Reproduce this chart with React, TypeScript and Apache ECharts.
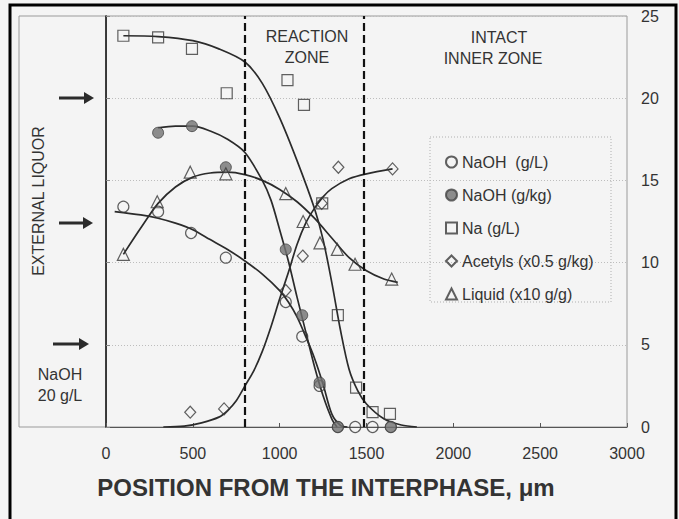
import React, { useEffect, useRef } from 'react';
import * as echarts from 'echarts';

// ---- data ----
const xTicks = [0, 500, 1000, 1500, 2000, 2500, 3000];
const yTicks = [0, 5, 10, 15, 20, 25];
const zoneBounds = [800, 1485];

const seriesNames = ['NaOH  (g/L)', 'NaOH (g/kg)', 'Na (g/L)', 'Acetyls (x0.5 g/kg)', 'Liquid (x10 g/g)'];

const xNaohGL = [100, 300, 490, 690, 1035, 1130, 1230, 1335, 1435, 1535, 1640];
const yNaohGL = [13.4, 13.1, 11.8, 10.3, 7.6, 5.5, 2.5, 0, 0, 0, 0];

const xNaohGkg = [300, 495, 690, 1035, 1130, 1230, 1335, 1640];
const yNaohGkg = [17.9, 18.3, 15.8, 10.8, 6.8, 2.7, 0, 0];

const xNa = [100, 300, 495, 695, 1045, 1140, 1245, 1335, 1440, 1535, 1635];
const yNa = [23.8, 23.7, 23.0, 20.3, 21.1, 19.6, 13.6, 6.8, 2.4, 0.9, 0.8];

const xAcetyl = [485, 680, 1035, 1133, 1242, 1338, 1650];
const yAcetyl = [0.9, 1.1, 8.3, 10.4, 13.6, 15.8, 15.7];

const xLiquid = [100, 295, 485, 690, 1035, 1135, 1232, 1332, 1434, 1645];
const yLiquid = [10.5, 13.7, 15.5, 15.4, 14.2, 12.5, 11.2, 10.8, 9.9, 9.0];

// fitted curves, points
const fitXNaohGL = [50, 200, 300, 400, 500, 600, 700, 800, 900, 1000, 1050, 1100, 1150, 1200, 1250, 1300, 1350, 1390];
const fitYNaohGL = [13.1, 12.9, 12.7, 12.4, 12.0, 11.4, 10.8, 10.1, 9.3, 8.3, 7.6, 6.7, 5.5, 4.2, 2.6, 0.8, 0.1, 0];

const fitXNaohGkg = [300, 400, 500, 600, 700, 800, 900, 950, 1000, 1050, 1100, 1150, 1200, 1250, 1300, 1330];
const fitYNaohGkg = [18.2, 18.3, 18.3, 18.0, 17.5, 16.7, 15.0, 13.8, 12.0, 10.1, 7.9, 5.8, 3.7, 1.9, 0.5, 0];

const fitXNa = [100, 300, 500, 650, 800, 900, 1000, 1100, 1200, 1250, 1300, 1350, 1400, 1450, 1500, 1600, 1700, 1790];
const fitYNa = [23.8, 23.75, 23.5, 23.0, 22.2, 20.9, 18.8, 16.2, 13.3, 11.4, 8.8, 5.9, 3.5, 2.2, 1.4, 0.5, 0.12, 0];

const fitXAcetyl = [330, 450, 550, 650, 700, 750, 800, 850, 900, 950, 1000, 1050, 1100, 1150, 1200, 1250, 1300, 1400, 1500, 1650];
const fitYAcetyl = [0, 0.05, 0.25, 0.6, 1.0, 1.6, 2.5, 3.4, 4.6, 6.1, 7.8, 9.4, 11.1, 12.4, 13.3, 14.0, 14.5, 15.1, 15.4, 15.7];

const fitXLiquid = [100, 200, 300, 400, 500, 600, 700, 800, 900, 1000, 1100, 1200, 1300, 1400, 1500, 1600, 1680];
const fitYLiquid = [10.5, 12.1, 13.6, 14.6, 15.2, 15.45, 15.5, 15.35, 15.0, 14.45, 13.7, 12.7, 11.5, 10.3, 9.5, 9.0, 8.8];

const zip = (xs: number[], ys: number[]) => xs.map((x, i) => [x, ys[i]]);

const FONT = '"Liberation Sans", Arial, sans-serif';
const BG = '#f4f4f4';
const INK = '#2b2b2b';

function buildOption() {
  const curveStyle = { color: INK, width: 1.7 };
  const curve = (name: string, xs: number[], ys: number[], extra: any = {}) => ({
    name,
    type: 'line',
    data: zip(xs, ys),
    smooth: 0.3,
    showSymbol: false,
    symbol: 'none',
    lineStyle: curveStyle,
    z: 2,
    silent: true,
    ...extra,
  });
  const open = { color: 'rgba(0,0,0,0)', borderColor: '#3a3a3a', borderWidth: 1.2 };
  const scatter = (name: string, xs: number[], ys: number[], symbol: string, size: any, itemStyle: any) => ({
    name,
    type: 'scatter',
    data: zip(xs, ys),
    symbol,
    symbolSize: size,
    itemStyle,
    z: 4,
  });

  const arrow = (x1: number, x2: number, y: number) => ({
    type: 'group',
    children: [
      { type: 'line', shape: { x1, y1: y, x2: x2 - 8, y2: y }, style: { stroke: INK, lineWidth: 3 } },
      { type: 'polygon', shape: { points: [[x2 - 10, y - 6], [x2, y], [x2 - 10, y + 6]] }, style: { fill: INK } },
    ],
  });
  const txt = (text: string, x: number, y: number, size = 16, weight = 'normal', rotation = 0) => ({
    type: 'text',
    x,
    y,
    rotation,
    style: {
      text,
      fill: '#333',
      font: `${weight} ${size}px ${FONT}`,
      textAlign: 'center',
      textVerticalAlign: 'middle',
    },
  });

  return {
    animation: false,
    backgroundColor: BG,
    grid: {
      left: 106,
      right: 52,
      top: 16,
      bottom: 92,
      show: true,
      borderColor: '#9a9a9a',
      borderWidth: 1,
      backgroundColor: 'rgba(0,0,0,0)',
    },
    xAxis: {
      type: 'value',
      min: xTicks[0],
      max: xTicks[xTicks.length - 1],
      interval: 500,
      axisLine: { show: true, lineStyle: { color: '#555', width: 1.2 } },
      axisTick: { show: true, inside: true, length: 4, lineStyle: { color: '#555' } },
      axisLabel: { margin: 18, fontSize: 16, color: '#333', fontFamily: FONT, formatter: (v: number) => String(v) },
      splitLine: { show: false },
    },
    yAxis: [
      {
        type: 'value',
        position: 'right',
        min: yTicks[0],
        max: yTicks[yTicks.length - 1],
        interval: 5,
        axisLine: { show: true, lineStyle: { color: '#8a8a8a' } },
        axisTick: { show: true, length: 4, lineStyle: { color: '#8a8a8a' } },
        axisLabel: { margin: 14, fontSize: 16, color: '#333', fontFamily: FONT, formatter: (v: number) => String(v) },
        splitLine: { show: true, lineStyle: { color: '#bdbdbd', type: [1, 2], width: 1 } },
      },
      {
        type: 'value',
        position: 'left',
        min: 0,
        max: 25,
        interval: 5,
        axisLine: { show: true, onZero: false, lineStyle: { color: '#222', width: 1.6 } },
        axisTick: { show: false },
        axisLabel: { show: false },
        splitLine: { show: false },
      },
    ],
    legend: {
      data: seriesNames,
      orient: 'vertical',
      left: 440,
      top: 148,
      itemWidth: 11,
      itemHeight: 11,
      itemGap: 15,
      textStyle: { fontSize: 16, lineHeight: 18, color: '#333', fontFamily: FONT },
      selectedMode: false,
    },
    series: [
      curve('fitNaohGL', fitXNaohGL, fitYNaohGL, {
        markLine: {
          silent: true,
          symbol: ['none', 'none'],
          label: { show: false },
          lineStyle: { color: '#111', width: 2.2, type: [8, 4] },
          data: zoneBounds.map((v) => ({ xAxis: v })),
        },
      }),
      curve('fitNaohGkg', fitXNaohGkg, fitYNaohGkg),
      curve('fitNa', fitXNa, fitYNa),
      curve('fitAcetyl', fitXAcetyl, fitYAcetyl),
      curve('fitLiquid', fitXLiquid, fitYLiquid),
      scatter(seriesNames[0], xNaohGL, yNaohGL, 'circle', 11, open),
      scatter(seriesNames[1], xNaohGkg, yNaohGkg, 'circle', 11, { color: '#727272', borderColor: '#444', borderWidth: 1 }),
      scatter(seriesNames[2], xNa, yNa, 'rect', 11, open),
      scatter(seriesNames[3], xAcetyl, yAcetyl, 'diamond', [11, 12], open),
      scatter(seriesNames[4], xLiquid, yLiquid, 'triangle', 12, open),
    ],
    graphic: [
      { type: 'rect', shape: { x: 10, y: 5, width: 666, height: 540 }, style: { fill: 'none', stroke: '#000', lineWidth: 3 }, silent: true },
      { type: 'rect', shape: { x: 19, y: 16, width: 87, height: 411 }, style: { fill: 'none', stroke: '#9a9a9a', lineWidth: 1 }, silent: true },
      { type: 'rect', shape: { x: 430, y: 137, width: 181, height: 165 }, style: { fill: 'none', stroke: '#b0b0b0', lineWidth: 1, lineDash: [1, 2] }, silent: true },
      arrow(59, 94, 98),
      arrow(59, 93, 223),
      arrow(53, 89, 344),
      txt('EXTERNAL LIQUOR', 38, 201, 16, 'normal', Math.PI / 2),
      txt('NaOH', 60, 374),
      txt('20 g/L', 60, 395),
      txt('REACTION', 307, 36),
      txt('ZONE', 307, 57),
      txt('INTACT', 499, 37),
      txt('INNER ZONE', 493, 58),
      txt('POSITION FROM THE INTERPHASE, μm', 326, 487, 24, 'bold'),
    ],
  };
}

export default function App() {
  const ref = useRef<HTMLDivElement>(null);
  useEffect(() => {
    const chart = echarts.init(ref.current!, null, { renderer: 'svg' });
    chart.setOption(buildOption() as any);
    return () => chart.dispose();
  }, []);
  return <div ref={ref} style={{ position: 'absolute', left: 0, top: 0, width: 679, height: 519 }} />;
}
